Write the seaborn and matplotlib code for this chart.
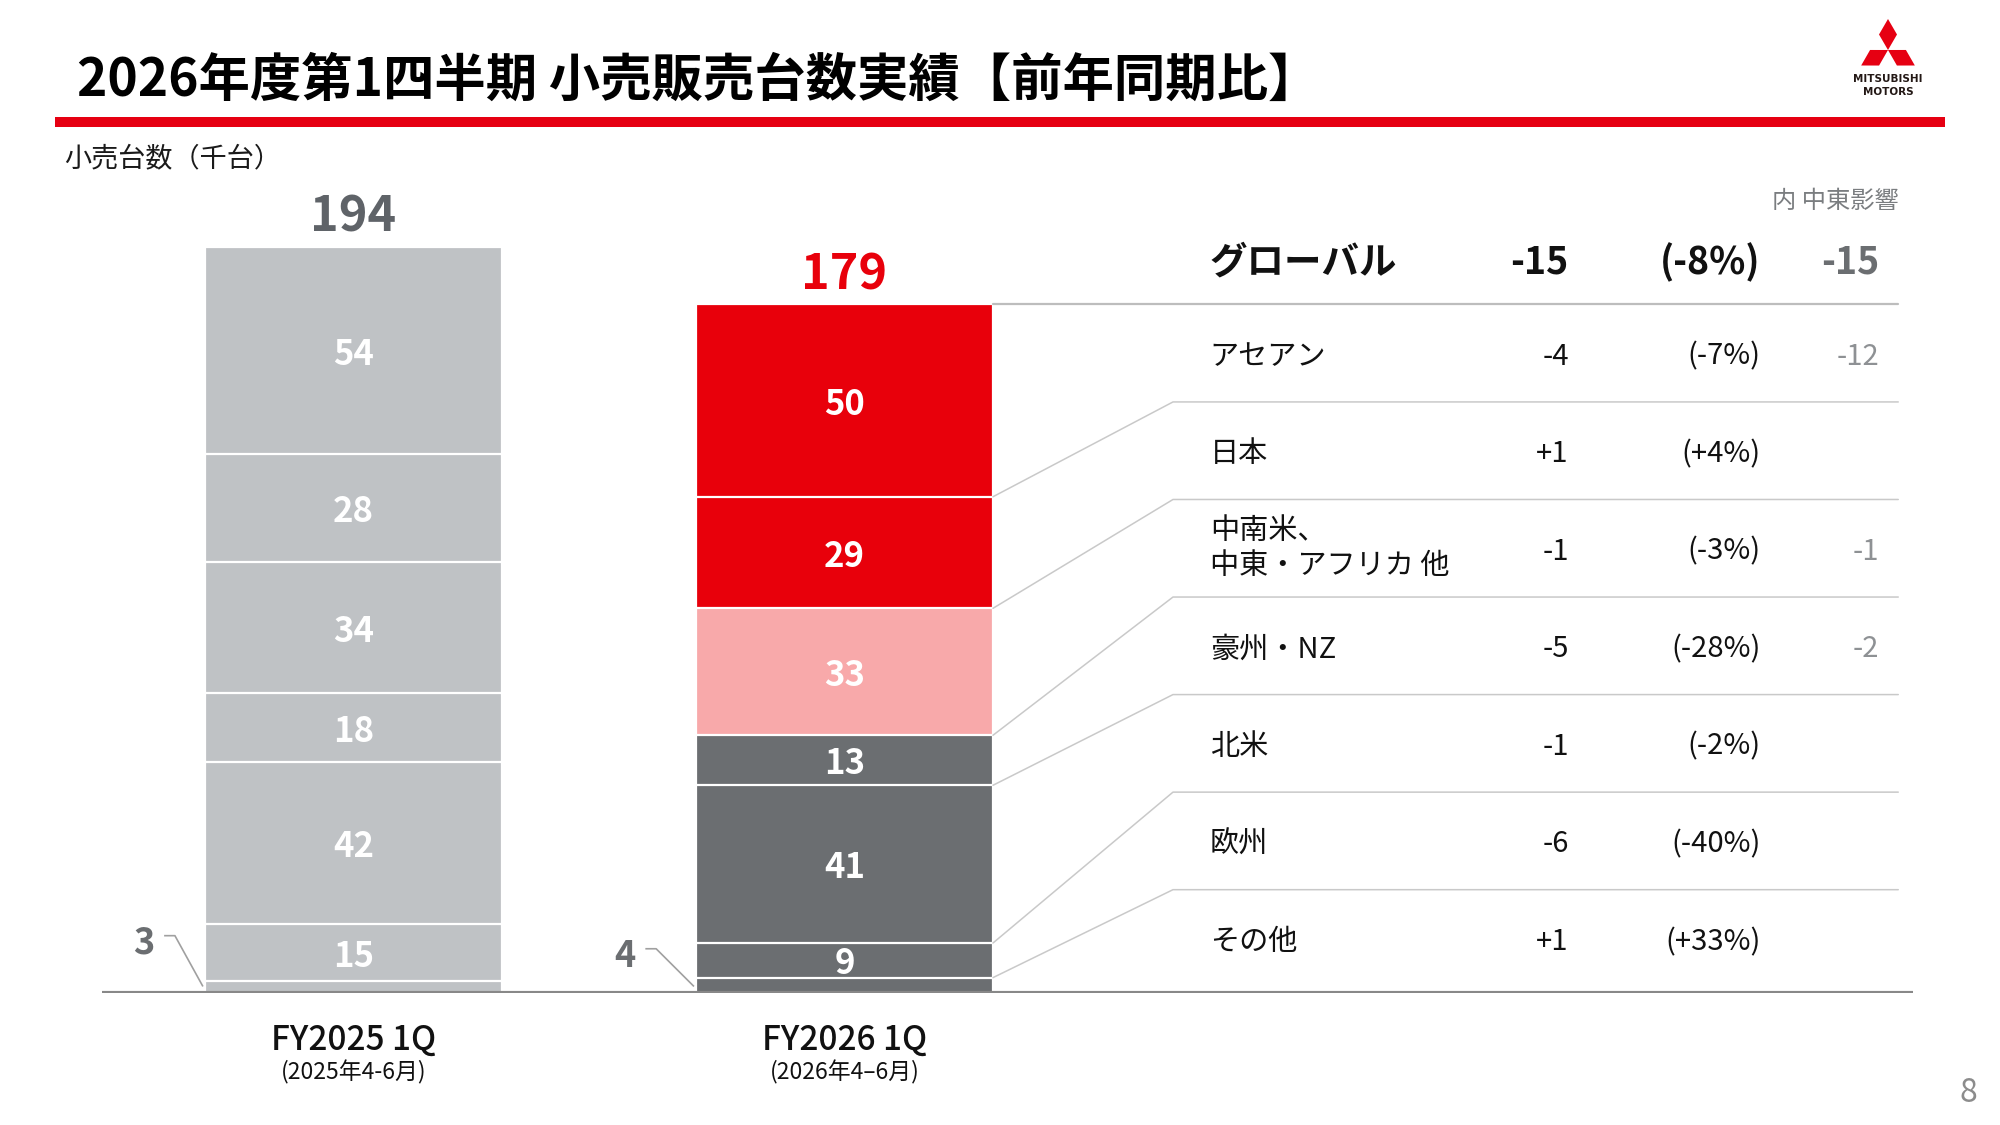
import numpy as np
import pandas as pd
import matplotlib
matplotlib.use("Agg")
import matplotlib.pyplot as plt
import seaborn as sns
from matplotlib.patches import Polygon

# ---------------- data ----------------
periods = ["FY2025 1Q", "FY2026 1Q"]
period_notes = ["(2025年4-6月)", "(2026年4–6月)"]
# regions listed bottom -> top of the stack
regions = ["その他", "欧州", "北米", "豪州・NZ", "中南米、\n中東・アフリカ 他", "日本", "アセアン"]
fy2025 = [3, 15, 42, 18, 34, 28, 54]
fy2026 = [4, 9, 41, 13, 33, 29, 50]
diff_labels = ["+1", "-6", "-1", "-5", "-1", "+1", "-4"]
pct_labels = ["(+33%)", "(-40%)", "(-2%)", "(-28%)", "(-3%)", "(+4%)", "(-7%)"]
me_labels = ["", "", "", "-2", "-1", "", "-12"]
global_row = ["グローバル", "-15", "(-8%)", "-15"]
me_header = "内 中東影響"
unit_label = "小売台数（千台）"
title = "2026年度第1四半期 小売販売台数実績【前年同期比】"

# ---------------- style ----------------
RED = "#E8000B"
PINK = "#F8A9AA"
DARK = "#6B6E71"
LIGHT = "#BFC2C5"
right_colors = [DARK, DARK, DARK, DARK, PINK, RED, RED]

sns.set_theme(style="white")
plt.rcParams["font.family"] = ["Noto Sans CJK JP", "DejaVu Sans"]

W, H = 2000, 1125
fig = plt.figure(figsize=(20, 11.25), dpi=100)

# decoration layer in pixel coordinates
deco = fig.add_axes([0, 0, 1, 1])
deco.set_xlim(0, W)
deco.set_ylim(H, 0)
deco.axis("off")

# chart axes: baseline at y=993 px, 3.847 px per unit, 491 px per category
BASE_PX = 993
PX_PER_UNIT = 3.847
YMAX = 215
x_left_px, x_right_px = 102, 1913
ax = fig.add_axes([x_left_px / W, (H - BASE_PX) / H,
                   (x_right_px - x_left_px) / W, YMAX * PX_PER_UNIT / H])

BAR_W = 0.605
cum25 = np.cumsum(fy2025)
cum26 = np.cumsum(fy2026)

# stacked bars drawn as overlapping cumulative bars (tallest first)
for k in range(len(regions) - 1, -1, -1):
    df = pd.DataFrame({"period": periods, "cum": [cum25[k], cum26[k]]})
    sns.barplot(data=df, x="period", y="cum", hue="period",
                order=periods, hue_order=periods,
                palette={periods[0]: LIGHT, periods[1]: right_colors[k]},
                saturation=1, dodge=False, width=BAR_W,
                edgecolor="white", linewidth=1.6,
                errorbar=None, legend=False, ax=ax, zorder=2)

ax.set_xlim(-0.512, 3.176)
ax.set_ylim(0, YMAX)
ax.set_xlabel("")
ax.set_ylabel("")
ax.set_xticks([])
ax.set_yticks([])
sns.despine(ax=ax, left=True, bottom=True)
ax.patch.set_alpha(0)
ax.axhline(0, color="#888888", lw=3.0, zorder=5)

# positions of the outside labels for the small bottom segments
small_label_y = [14.0, 10.6]
small_label_dx = [0.125, 0.145]

# segment labels and small-value leaders
for i, vals in enumerate([fy2025, fy2026]):
    bottoms = np.concatenate([[0], np.cumsum(vals)[:-1]])
    xl = i - BAR_W / 2
    for v, b in zip(vals, bottoms):
        if v >= 5:
            ax.text(i, b + v / 2, str(v), ha="center", va="center_baseline",
                    color="white", fontsize=25, fontweight="bold", zorder=6)
        else:
            ly = small_label_y[i]
            dx = small_label_dx[i]
            ax.text(xl - dx, ly, str(v), ha="center", va="center_baseline",
                    color=DARK, fontsize=26, fontweight="bold", zorder=6)
            ax.plot([xl - dx + 0.042, xl - dx + 0.064, xl - 0.004],
                    [ly + 0.9, ly + 0.9, b + 1.7],
                    color="#A0A0A0", lw=1.2, zorder=6, solid_capstyle="butt")
    tot = sum(vals)
    ax.text(i, tot + 9, str(tot), ha="center", va="center_baseline",
            color=("#5F6368" if i == 0 else RED), fontsize=35, fontweight="bold")
    ax.text(i, -11.2, periods[i], ha="center", va="center_baseline",
            color="#111111", fontsize=24, fontweight="medium")
    ax.text(i, -20.0, period_notes[i], ha="center", va="center_baseline",
            color="#111111", fontsize=16.5)

# ---------------- table ----------------
BAR_R = 1 + BAR_W / 2
TBL_L, TBL_R = 1.669, 3.146
LBL_X, VAL_R, PCT_R, ME_R = 1.744, 2.475, 2.866, 3.107
total26 = int(cum26[-1])
edges = np.linspace(total26, 1.5, len(regions) + 1)

# header
hy = total26 + 12
ax.text(LBL_X, hy, global_row[0], ha="left", va="center_baseline",
        fontsize=27, fontweight="bold", color="#111111")
ax.text(VAL_R, hy, global_row[1], ha="right", va="center_baseline",
        fontsize=27, fontweight="bold", color="#111111")
ax.text(PCT_R, hy, global_row[2], ha="right", va="center_baseline",
        fontsize=27, fontweight="bold", color="#111111")
ax.text(ME_R, hy, global_row[3], ha="right", va="center_baseline",
        fontsize=27, fontweight="bold", color=DARK)
ax.text(TBL_R, total26 + 27.7, me_header, ha="right", va="center_baseline",
        fontsize=17.5, color="#7A7D80")

ax.plot([BAR_R, TBL_R], [total26, total26], color="#BDBDBD", lw=1.6, zorder=3)
n = len(regions)
for j in range(1, n):
    ye = edges[j]
    yb = cum26[n - 1 - j]
    ax.plot([BAR_R, TBL_L, TBL_R], [yb, ye, ye], color="#C9C9C9", lw=1.1, zorder=3)

for j in range(n):
    r = n - 1 - j
    yc = (edges[j] + edges[j + 1]) / 2
    if "\n" in regions[r]:
        ax.text(LBL_X, yc, regions[r], ha="left", va="center", fontsize=21,
                color="#111111", linespacing=1.2)
    else:
        ax.text(LBL_X, yc, regions[r], ha="left", va="center_baseline",
                fontsize=21, color="#111111")
    ax.text(VAL_R, yc, diff_labels[r], ha="right", va="center_baseline",
            fontsize=21, color="#111111")
    ax.text(PCT_R, yc, pct_labels[r], ha="right", va="center_baseline",
            fontsize=21, color="#111111")
    if me_labels[r]:
        ax.text(ME_R, yc, me_labels[r], ha="right", va="center_baseline",
                fontsize=21, color="#8E9194")

# ---------------- decorations ----------------
deco.text(77, 80, title, ha="left", va="center", fontsize=37,
          fontweight="bold", color="#000000")
deco.plot([55, 1945], [122, 122], color="#E60012", lw=7.2, solid_capstyle="butt")
deco.text(64, 159, unit_label, ha="left", va="center", fontsize=19.5, color="#1A1A1A")
deco.text(1968, 1093, "8", ha="center", va="center", fontsize=23, color="#8C8C8C")

# logo
cx, cy, L, Wd = 1888, 50, 31, 18
base = np.array([[0, 0], [Wd / 2, -L / 2], [0, -L], [-Wd / 2, -L / 2]])
for ang in (0, 120, -120):
    t = np.deg2rad(ang)
    rot = np.array([[np.cos(t), -np.sin(t)], [np.sin(t), np.cos(t)]])
    pts = base @ rot.T + [cx, cy]
    deco.add_patch(Polygon(pts, closed=True, color="#E60012", lw=0))
deco.text(cx, 79, "MITSUBISHI", ha="center", va="center", fontsize=7.5,
          fontweight="bold", color="#231815", family="DejaVu Sans")
deco.text(cx, 92, "MOTORS", ha="center", va="center", fontsize=7.5,
          fontweight="bold", color="#231815", family="DejaVu Sans")

fig.savefig("out.png", dpi=100, facecolor="white")
